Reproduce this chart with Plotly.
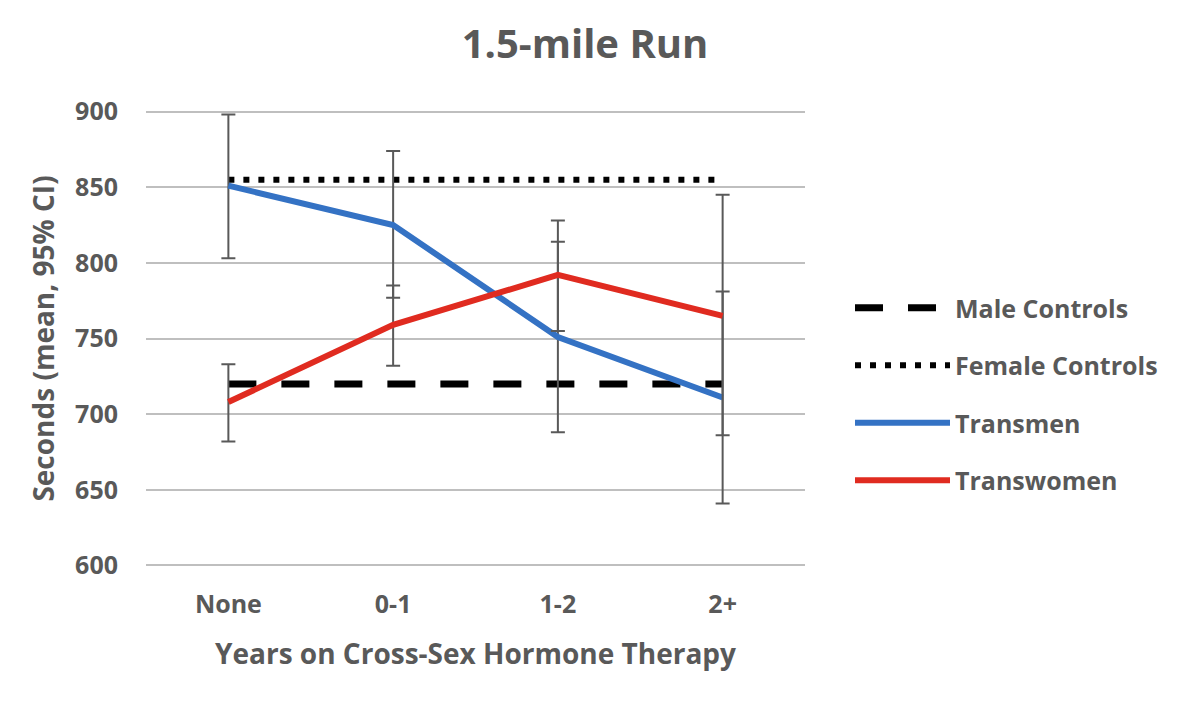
import plotly.graph_objects as go

categories = ["None", "0-1", "1-2", "2+"]
male_controls = [720, 720, 720, 720]
female_controls = [855, 855, 855, 855]
transmen = [851, 825, 751, 711]
transmen_ci_plus = [47, 49, 63, 70]
transmen_ci_minus = [48, 48, 63, 70]
transwomen = [708, 759, 792, 765]
transwomen_ci_plus = [25, 26, 36, 80]
transwomen_ci_minus = [26, 27, 37, 79]

FONT = "Open Sans"
GRAY = "#595959"
BLUE = "#3472c4"
RED = "#e02b20"

fig = go.Figure()
fig.add_trace(go.Scatter(
    x=categories, y=male_controls, mode="lines", name="Male Controls",
    line=dict(color="black", width=7, dash="28px,25px"),
    legendgroup="a",
))
fig.add_trace(go.Scatter(
    x=categories, y=female_controls, mode="lines", name="Female Controls",
    line=dict(color="black", width=6, dash="6px,9px"),
    legendgroup="b",
))
fig.add_trace(go.Scatter(
    x=categories, y=transmen, mode="lines", name="Transmen",
    line=dict(color=BLUE, width=6),
    error_y=dict(type="data", array=transmen_ci_plus, arrayminus=transmen_ci_minus,
                 color=GRAY, thickness=2, width=7),
    legendgroup="c",
))
fig.add_trace(go.Scatter(
    x=categories, y=transwomen, mode="lines", name="Transwomen",
    line=dict(color=RED, width=6),
    error_y=dict(type="data", array=transwomen_ci_plus, arrayminus=transwomen_ci_minus,
                 color=GRAY, thickness=2, width=7),
    legendgroup="d",
))

PL, PR, PT, PB = 146, 805, 107, 570

fig.update_layout(
    width=1200, height=707,
    paper_bgcolor="white", plot_bgcolor="white",
    margin=dict(l=PL, r=1200 - PR, t=PT, b=707 - PB, autoexpand=False),
    font=dict(family=FONT, color=GRAY),
    title=dict(text="<b>1.5-mile Run</b>", x=585 / 1200, xanchor="center",
               y=1 - 44 / 707, yanchor="middle",
               font=dict(size=40, color=GRAY, family=FONT)),
    showlegend=True,
    legend=dict(x=(850 - PL) / (PR - PL), xanchor="left",
                y=(PB - 394) / (PB - PT), yanchor="middle",
                font=dict(size=25, color=GRAY, family=FONT, weight="bold"),
                itemwidth=95, traceorder="grouped", tracegroupgap=22,
                bgcolor="rgba(0,0,0,0)"),
    xaxis=dict(
        type="category", range=[-0.5, 3.5],
        showgrid=False, zeroline=False, showline=False,
        ticks="outside", ticklen=12, tickcolor="rgba(0,0,0,0)",
        tickfont=dict(size=25, color=GRAY, family=FONT, weight="bold"),
        title=dict(text="<b>Years on Cross-Sex Hormone Therapy</b>",
                   font=dict(size=28, color=GRAY, family=FONT), standoff=25),
    ),
    yaxis=dict(
        range=[597, 903], tickvals=[600, 650, 700, 750, 800, 850, 900],
        showgrid=True, gridcolor="#bfbfbf", gridwidth=2,
        zeroline=False, showline=False,
        ticks="outside", ticklen=22, tickcolor="rgba(0,0,0,0)",
        tickfont=dict(size=25, color=GRAY, family=FONT, weight="bold"),
        title=dict(text="<b>Seconds (mean, 95% CI)</b>",
                   font=dict(size=28, color=GRAY, family=FONT), standoff=12),
    ),
)

fig.write_html("out.html", config={"displayModeBar": False},
               post_script="document.body.style.margin='0';")
